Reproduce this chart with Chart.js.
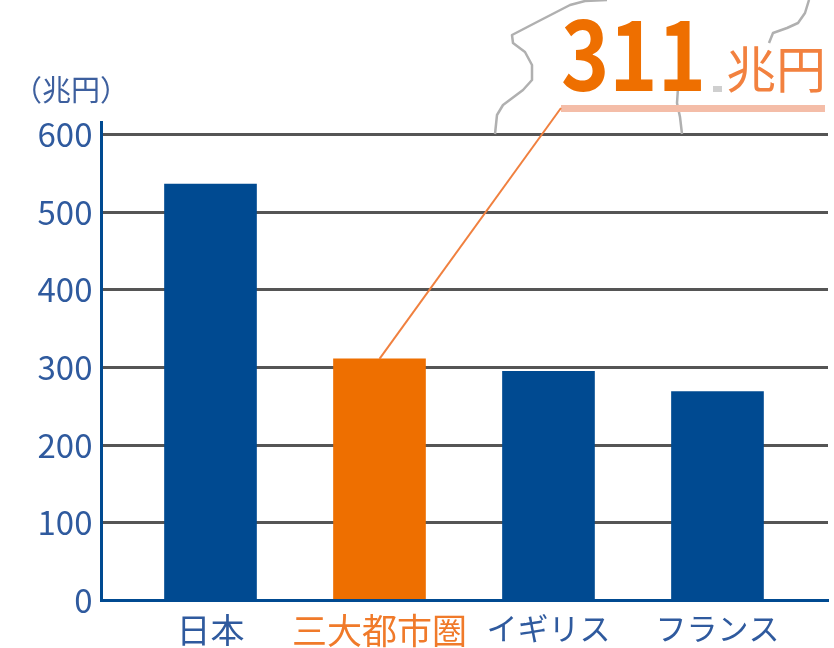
<!DOCTYPE html>
<html lang="ja">
<head>
    <meta charset="UTF-8">
    <title>GDP 比較</title>
    <script src="https://cdn.jsdelivr.net/npm/chart.js"></script>
    <style>
        html, body { margin: 0; padding: 0; background: #fff; }
        canvas { display: block; }
    </style>
</head>
<body>
    <canvas id="monGraphe" width="834" height="648"></canvas>
    <script>
    const categories = ['日本', '三大都市圏', 'イギリス', 'フランス'];
    const gdpValues = [536, 311, 295, 269];
    const barColors = ['#004a91', '#ee6f00', '#004a91', '#004a91'];
    const labelColors = ['#2f5a9e', '#f07a2a', '#2f5a9e', '#2f5a9e'];
    const labelSizes = [34, 35, 31, 31];
    const unitLabel = '（兆円）';
    const calloutValue = '311';
    const calloutUnit = '兆円';

    const jpFont = '"Noto Sans CJK JP", "Noto Sans", sans-serif';

    // gray map outline behind the callout, just decoration
    const outlines = [
        [[495,134],[497,115],[503,105],[523,90],[532,80],[532,65],[525,52],[513,43],[512,35],[537,22],[570,5],[585,1],[607,0]],
        [[682,134],[680,117],[677,103],[678,88],[687,83]],
        [[769,43],[773,33],[787,28],[798,23],[805,13],[809,0]]
    ];

    const callout = {
        id: 'callout',
        beforeDatasetsDraw(chart) {
            const ctx = chart.ctx;
            ctx.save();
            ctx.strokeStyle = '#b0b0b0';
            ctx.lineWidth = 2.5;
            ctx.lineJoin = 'round';
            outlines.forEach(pts => {
                ctx.beginPath();
                pts.forEach((p, i) => i ? ctx.lineTo(p[0], p[1]) : ctx.moveTo(p[0], p[1]));
                ctx.stroke();
            });
            ctx.restore();
        },
        afterDraw(chart) {
            const ctx = chart.ctx;
            const x = chart.scales.x, y = chart.scales.y;
            ctx.save();

            // underline and leader down to the orange bar
            ctx.fillStyle = '#f4bda8';
            ctx.fillRect(561, 105, 264, 7);
            ctx.strokeStyle = '#f0803f';
            ctx.lineWidth = 2;
            ctx.beginPath();
            ctx.moveTo(561, 108);
            ctx.lineTo(x.getPixelForValue(1), y.getPixelForValue(gdpValues[1]));
            ctx.stroke();

            ctx.textBaseline = 'alphabetic';
            ctx.textAlign = 'left';
            ctx.fillStyle = '#ee6f00';
            ctx.font = 'bold 95px ' + jpFont;
            ctx.fillText(calloutValue, 561, 91, 145);

            ctx.fillStyle = '#cfcfcf';
            ctx.fillRect(713, 86, 9, 6);

            ctx.fillStyle = '#f2813f';
            ctx.font = '50px ' + jpFont;
            ctx.fillText(calloutUnit, 726, 88);

            ctx.fillStyle = '#3d5f9e';
            ctx.font = '29px ' + jpFont;
            ctx.fillText(unitLabel, 13, 101);
            ctx.restore();
        }
    };

    new Chart(document.getElementById('monGraphe').getContext('2d'), {
        type: 'bar',
        data: {
            datasets: [{
                data: gdpValues.map((v, i) => ({ x: i, y: v })),
                backgroundColor: barColors,
                barThickness: 92
            }]
        },
        options: {
            responsive: false,
            animation: false,
            layout: { padding: { top: 122, right: 6, left: 0, bottom: 0 } },
            plugins: { legend: { display: false }, tooltip: { enabled: false } },
            scales: {
                x: {
                    type: 'linear',
                    offset: false,
                    min: -0.645,
                    max: 3.654,
                    afterBuildTicks: scale => { scale.ticks = categories.map((c, i) => ({ value: i })); },
                    afterFit: scale => { scale.height = 47.5; },
                    grid: { display: false },
                    border: { color: '#004a91', width: 3, z: 1 },
                    ticks: {
                        autoSkip: false,
                        maxRotation: 0,
                        padding: 1,
                        callback: v => categories[v],
                        color: c => labelColors[c.index],
                        font: c => ({ family: jpFont, size: labelSizes[c.index] })
                    }
                },
                y: {
                    min: 0,
                    max: 616,
                    afterFit: scale => { scale.width = 101.5; },
                    grid: { color: '#555555', lineWidth: 3, drawTicks: false },
                    border: { color: '#004a91', width: 3 },
                    ticks: {
                        stepSize: 100,
                        includeBounds: false,
                        padding: 9,
                        color: '#2f5a9e',
                        font: { family: jpFont, size: 33 }
                    }
                }
            }
        },
        plugins: [callout]
    });
    </script>
</body>
</html>
